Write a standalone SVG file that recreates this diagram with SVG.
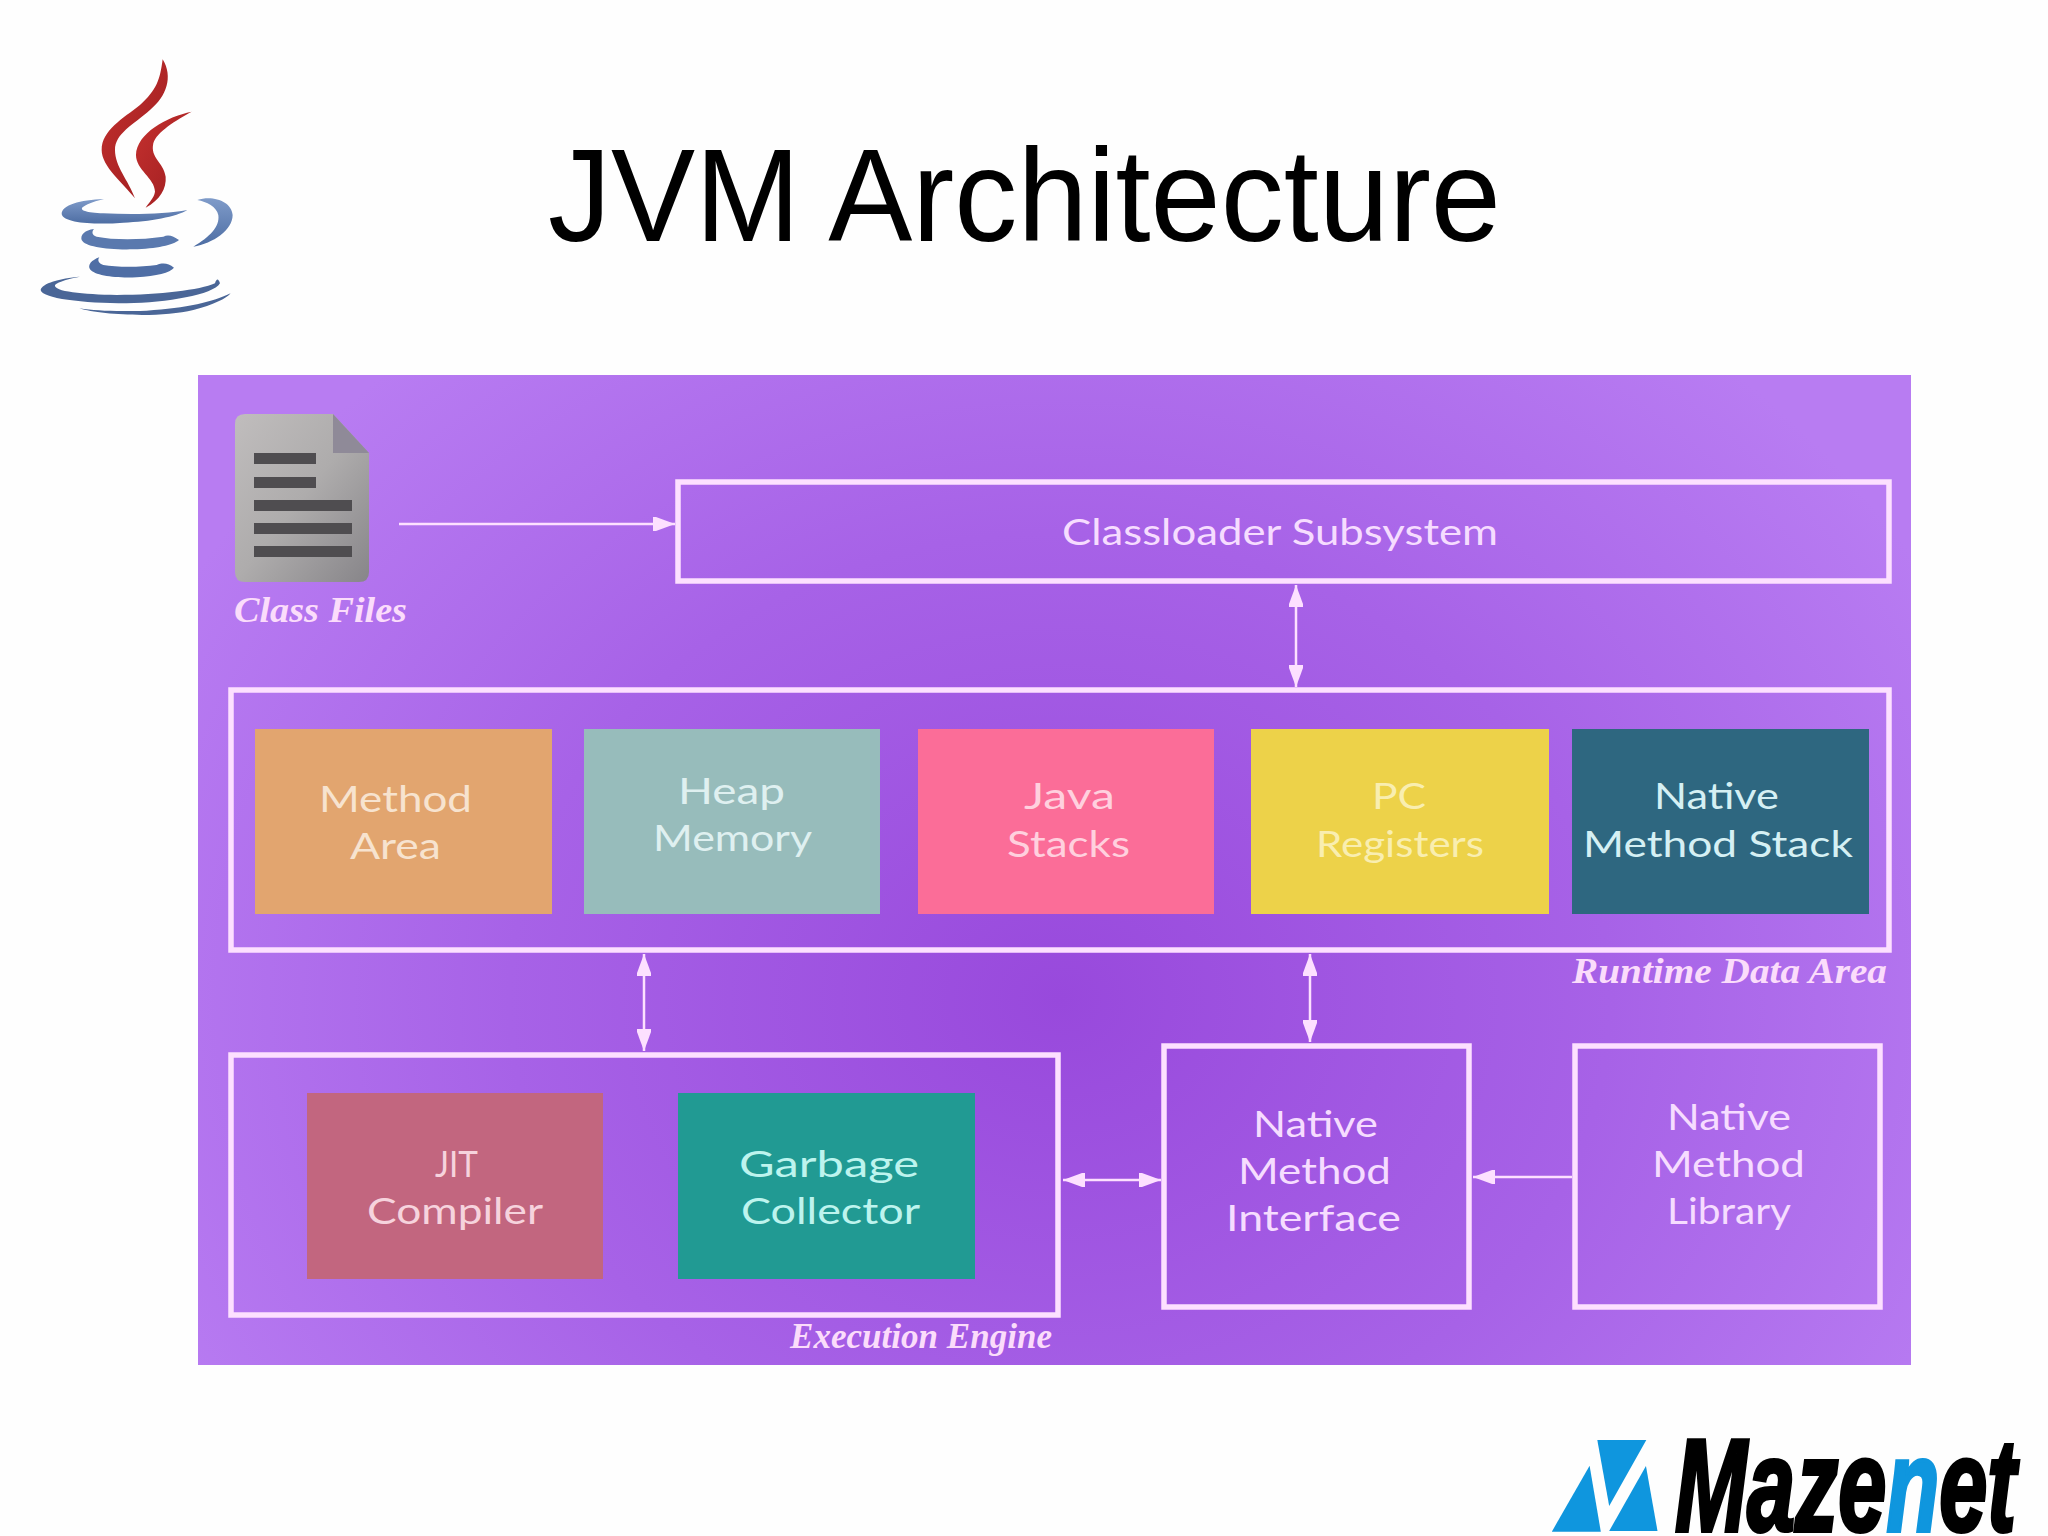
<svg xmlns="http://www.w3.org/2000/svg" width="2048" height="1536" viewBox="0 0 2048 1536">
<defs>
<radialGradient id="panelBg" gradientUnits="userSpaceOnUse" cx="1060" cy="1000" r="1000" gradientTransform="translate(1060 1000) scale(1 .85) translate(-1060 -1000)">
<stop offset="0" stop-color="#9849dc"/><stop offset=".55" stop-color="#a762e7"/><stop offset="1" stop-color="#b87cf2"/>
</radialGradient>
<linearGradient id="docBg" x1="0" y1="0" x2="1" y2="1"><stop offset="0" stop-color="#c0bdbd"/><stop offset=".5" stop-color="#aeacac"/><stop offset="1" stop-color="#878589"/></linearGradient>
<linearGradient id="flame" x1="0" y1="0" x2="1" y2="1"><stop offset="0" stop-color="#c5312f"/><stop offset="1" stop-color="#9c1c1f"/></linearGradient>
<linearGradient id="cupTop" x1="0" y1="0" x2="0" y2="1"><stop offset="0" stop-color="#7f9bc9"/><stop offset="1" stop-color="#4d6da3"/></linearGradient>
<marker id="head" markerUnits="userSpaceOnUse" markerWidth="24" markerHeight="20" refX="22" refY="10" orient="auto-start-reverse">
<path d="M0 3 L3 3 L22 10 L3 17 L0 17 Z" fill="#fde0ff"/>
</marker>
</defs>
<style>
.frame{fill:none;stroke:#fde0ff;stroke-width:5.5}
.conn{stroke:#fde0ff;stroke-width:2.5;fill:none}
.lbl{font-family:"Lato","Noto Sans",sans-serif;font-size:36px}
.script{font-family:"Liberation Serif",serif;font-style:italic;font-weight:bold;font-size:36px;fill:#fbdcfb}
.pale{fill:#f6dcff}
.bar{fill:#4f4d50}
</style>
<rect width="2048" height="1536" fill="#fefefe"/>
<rect id="panel" x="198" y="375" width="1713" height="990" fill="url(#panelBg)"/>
<text id="title" x="548" y="241" font-family="'Liberation Sans',Arial,sans-serif" font-size="132" textLength="953" lengthAdjust="spacingAndGlyphs" fill="#000">JVM Architecture</text>

<g id="java-logo" transform="translate(0 30) scale(.3333)">
<path fill="url(#flame)" d="M488 88C480 150 470 180 420 225C370 265 305 300 305 360C305 410 370 460 405 505C385 450 345 410 345 360C345 310 400 285 450 240C500 200 520 140 488 88Z"/>
<path fill="url(#flame)" d="M575 245C500 260 410 310 408 375C408 420 465 445 465 485C462 505 445 520 437 533C480 510 500 475 497 440C490 395 450 385 460 340C470 305 530 270 575 245Z"/>
<path fill="url(#cupTop)" d="M312 507C240 510 185 525 185 552C190 580 290 585 370 578C450 575 530 560 562 540C500 552 400 555 310 550C260 548 235 540 250 530C265 520 290 512 312 507Z"/>
<path fill="url(#cupTop)" d="M592 510C640 495 695 515 698 555C698 600 640 640 580 650C630 620 660 590 655 555C650 530 620 515 592 510Z"/>
<path fill="#5a79ae" d="M282 597C255 600 240 615 245 630C255 650 320 660 400 658C470 656 520 645 537 630C520 618 505 612 490 620C420 630 340 630 290 620C275 615 275 605 282 597Z"/>
<path fill="#4f6ea5" d="M298 682C275 690 262 705 270 718C285 738 350 745 410 742C470 738 510 728 522 713C505 700 490 697 470 705C420 712 350 712 310 705C295 700 292 690 298 682Z"/>
<path fill="#4a6697" d="M240 740C180 745 125 760 122 780C125 805 250 820 380 820C500 818 640 795 660 760C655 745 650 745 645 760C600 780 480 795 350 795C250 793 160 785 165 765C175 755 210 745 240 740Z"/>
<path fill="#4a6697" d="M238 835C300 855 480 865 580 840C640 825 680 805 692 790C640 815 560 835 440 842C350 845 290 843 238 835Z"/>
</g>

<g id="class-files">
<path d="M245 414H333L369 453V572Q369 582 359 582H245Q235 582 235 572V424Q235 414 245 414Z" fill="url(#docBg)"/>
<path d="M333 414L369 453H333Z" fill="#8f8a98"/>
<rect class="bar" x="254" y="453" width="62" height="11"/>
<rect class="bar" x="254" y="477" width="62" height="11"/>
<rect class="bar" x="254" y="500" width="98" height="11"/>
<rect class="bar" x="254" y="523" width="98" height="11"/>
<rect class="bar" x="254" y="546" width="98" height="11"/>
<text class="script" x="234" y="622" textLength="173" lengthAdjust="spacingAndGlyphs">Class Files</text>
</g>

<g id="classloader">
<rect class="frame" x="678" y="482" width="1211" height="99"/>
<text class="lbl pale" x="1062" y="545" textLength="436" lengthAdjust="spacingAndGlyphs">Classloader Subsystem</text>
</g>

<g id="runtime-data-area">
<rect class="frame" x="231" y="690" width="1658" height="260"/>
<text class="script" x="1572" y="983" textLength="315" lengthAdjust="spacingAndGlyphs">Runtime Data Area</text>
</g>

<g id="method-area">
<rect x="255" y="729" width="297" height="185" fill="#e2a56f"/>
<text class="lbl" fill="#f7e3cf" x="319" y="812" textLength="153" lengthAdjust="spacingAndGlyphs">Method</text>
<text class="lbl" fill="#f7e3cf" x="350" y="859" textLength="91" lengthAdjust="spacingAndGlyphs">Area</text>
</g>
<g id="heap-memory">
<rect x="584" y="729" width="296" height="185" fill="#97bcbb"/>
<text class="lbl" fill="#dff0f0" x="678" y="804" textLength="107" lengthAdjust="spacingAndGlyphs">Heap</text>
<text class="lbl" fill="#dff0f0" x="653" y="851" textLength="159" lengthAdjust="spacingAndGlyphs">Memory</text>
</g>
<g id="java-stacks">
<rect x="918" y="729" width="296" height="185" fill="#fb6d98"/>
<text class="lbl" fill="#ffd0de" x="1024" y="809" textLength="91" lengthAdjust="spacingAndGlyphs">Java</text>
<text class="lbl" fill="#ffd0de" x="1007" y="857" textLength="123" lengthAdjust="spacingAndGlyphs">Stacks</text>
</g>
<g id="pc-registers">
<rect x="1251" y="729" width="298" height="185" fill="#edd249"/>
<text class="lbl" fill="#f9eeb0" x="1372" y="809" textLength="54" lengthAdjust="spacingAndGlyphs">PC</text>
<text class="lbl" fill="#f9eeb0" x="1316" y="857" textLength="168" lengthAdjust="spacingAndGlyphs">Registers</text>
</g>
<g id="native-method-stack">
<rect x="1572" y="729" width="297" height="185" fill="#2e6780"/>
<text class="lbl" fill="#d5f0f4" x="1654" y="809" textLength="125" lengthAdjust="spacingAndGlyphs">Native</text>
<text class="lbl" fill="#d5f0f4" x="1583" y="857" textLength="270" lengthAdjust="spacingAndGlyphs">Method Stack</text>
</g>

<g id="execution-engine">
<rect class="frame" x="231" y="1055" width="827" height="260"/>
<text class="script" x="790" y="1348" textLength="262" lengthAdjust="spacingAndGlyphs">Execution Engine</text>
</g>
<g id="jit-compiler">
<rect x="307" y="1093" width="296" height="186" fill="#c2667f"/>
<text class="lbl" fill="#f6d3dd" x="435" y="1177" textLength="43" lengthAdjust="spacingAndGlyphs">JIT</text>
<text class="lbl" fill="#f6d3dd" x="367" y="1224" textLength="176" lengthAdjust="spacingAndGlyphs">Compiler</text>
</g>
<g id="garbage-collector">
<rect x="678" y="1093" width="297" height="186" fill="#219a93"/>
<text class="lbl" fill="#bdf4ee" x="739" y="1177" textLength="180" lengthAdjust="spacingAndGlyphs">Garbage</text>
<text class="lbl" fill="#bdf4ee" x="741" y="1224" textLength="179" lengthAdjust="spacingAndGlyphs">Collector</text>
</g>
<g id="native-method-interface">
<rect class="frame" x="1164" y="1046" width="305" height="261"/>
<text class="lbl pale" x="1253" y="1137" textLength="125" lengthAdjust="spacingAndGlyphs">Native</text>
<text class="lbl pale" x="1238" y="1184" textLength="153" lengthAdjust="spacingAndGlyphs">Method</text>
<text class="lbl pale" x="1226" y="1231" textLength="175" lengthAdjust="spacingAndGlyphs">Interface</text>
</g>
<g id="native-method-library">
<rect class="frame" x="1575" y="1046" width="305" height="261"/>
<text class="lbl pale" x="1667" y="1130" textLength="124" lengthAdjust="spacingAndGlyphs">Native</text>
<text class="lbl pale" x="1652" y="1177" textLength="153" lengthAdjust="spacingAndGlyphs">Method</text>
<text class="lbl pale" x="1667" y="1224" textLength="124" lengthAdjust="spacingAndGlyphs">Library</text>
</g>

<g id="connectors">
<line class="conn" x1="399" y1="524" x2="675" y2="524" marker-end="url(#head)"/>
<line class="conn" x1="1296" y1="585" x2="1296" y2="687" marker-start="url(#head)" marker-end="url(#head)"/>
<line class="conn" x1="644" y1="954" x2="644" y2="1051" marker-start="url(#head)" marker-end="url(#head)"/>
<line class="conn" x1="1310" y1="954" x2="1310" y2="1042" marker-start="url(#head)" marker-end="url(#head)"/>
<line class="conn" x1="1063" y1="1180" x2="1161" y2="1180" marker-start="url(#head)" marker-end="url(#head)"/>
<line class="conn" x1="1572" y1="1177" x2="1473" y2="1177" marker-end="url(#head)"/>
</g>

<g id="mazenet-logo">
<g transform="translate(1500 1400) scale(.35 .3333)" fill="#0f96de">
<path d="M278 120H418L312 318Z"/><path d="M256 197L288 395H148Z"/><path d="M417 198L450 393H312Z"/>
</g>
<text transform="translate(1675 1531) scale(.655 1)" font-family="'Liberation Sans',Arial,sans-serif" font-weight="bold" font-style="italic" font-size="132" fill="#000" stroke="#000" stroke-width="4">Maze<tspan fill="#0f96de" stroke="#0f96de">n</tspan>et</text>
</g>
</svg>
